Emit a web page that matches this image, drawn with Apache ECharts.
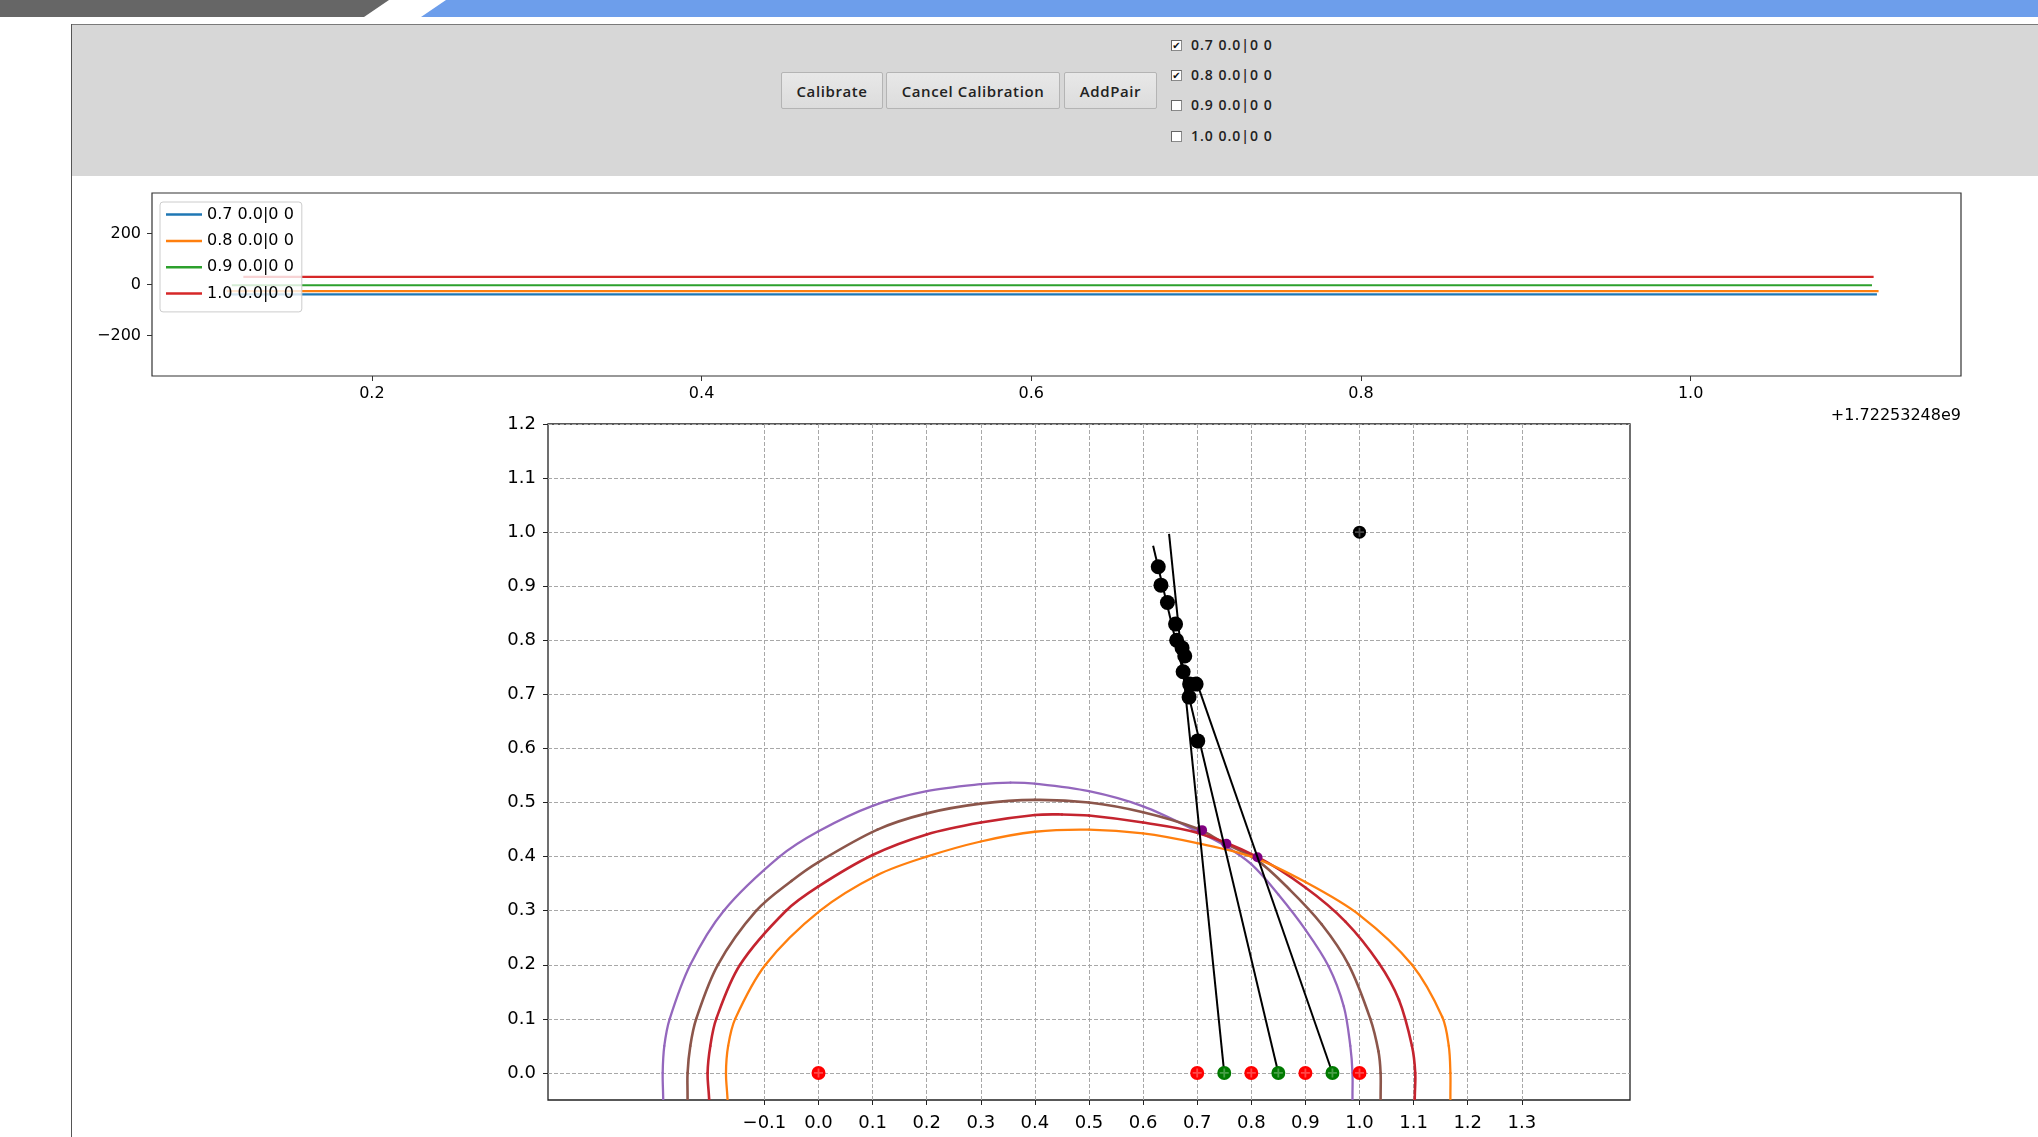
<!DOCTYPE html>
<html>
<head>
<meta charset="utf-8">
<title>Calibration view</title>
<script src="https://cdn.jsdelivr.net/npm/echarts@6.0.0/dist/echarts.min.js"></script>
<style>
  html, body { margin: 0; padding: 0; background: #fff; }
  body { width: 2038px; height: 1137px; overflow: hidden; position: relative; }
  #topbar { position: absolute; left: 0; top: 0; }
  #panel { position: absolute; left: 71px; top: 24px; width: 1967px; height: 152px;
           background: #d7d7d7; border-top: 1px solid #7a7a7a; box-sizing: border-box; }
  #edge { position: absolute; left: 71px; top: 24px; width: 1px; height: 1113px; background: #555; }
  .btn { position: absolute; top: 72px; height: 37px; box-sizing: border-box;
         border: 1px solid #b4b4b4; border-radius: 2px;
         background: linear-gradient(#e8e8e8, #dcdcdc);
         font: 600 15px "Open Sans", "Noto Sans", sans-serif; letter-spacing: 0.6px; color: #222;
         display: flex; align-items: center; justify-content: center; }
  .chk { position: absolute; left: 1171px; width: 11px; height: 11px; box-sizing: border-box;
         background: #fff; border: 1px solid #8a8a8a; border-top-color: #666; border-left-color: #666;
         font: 10px "DejaVu Sans", sans-serif; line-height: 9px; text-align: center; color: #111; }
  .lbl { position: absolute; left: 1191px; font: 600 14px "Open Sans", "Noto Sans", sans-serif;
         letter-spacing: 1px; color: #222; line-height: 16px; }
  #chart { position: absolute; left: 0; top: 0; width: 2038px; height: 1137px; z-index: 2; }
</style>
</head>
<body>
<svg id="topbar" width="2038" height="17">
  <polygon points="0,0 389,0 364,17 0,17" fill="#666666"></polygon>
  <polygon points="446,0 2038,0 2038,17 421,17" fill="#6d9eeb"></polygon>
</svg>
<div id="panel"></div>
<div id="edge"></div>
<div class="btn" style="left:781px;width:102px;">Calibrate</div>
<div class="btn" style="left:886px;width:174px;">Cancel Calibration</div>
<div class="btn" style="left:1064px;width:93px;">AddPair</div>
<div id="checks"></div>
<div id="chart"></div>
<script>
// ---- data ----
// UI checkboxes
const checkLabels = ['0.7 0.0|0 0', '0.8 0.0|0 0', '0.9 0.0|0 0', '1.0 0.0|0 0'];
const checkStates = [true, true, false, false];

// top strip: time (offset from 1.72253248e9) vs value
const tsOffset = '+1.72253248e9';
const topNames = ['0.7 0.0|0 0', '0.8 0.0|0 0', '0.9 0.0|0 0', '1.0 0.0|0 0'];
const topBlue = [[0.113, -39], [1.113, -39]];
const topOrange = [[0.112, -26], [1.114, -26]];
const topGreen = [[0.115, -3], [1.110, -3]];
const topRed = [[0.122, 30], [1.111, 30]];
const topXTicks = [0.2, 0.4, 0.6, 0.8, 1.0];
const topYTicks = [-200, 0, 200];

// bottom plot
const xTicks = [-0.1, 0.0, 0.1, 0.2, 0.3, 0.4, 0.5, 0.6, 0.7, 0.8, 0.9, 1.0, 1.1, 1.2, 1.3];
const yTicks = [0.0, 0.1, 0.2, 0.3, 0.4, 0.5, 0.6, 0.7, 0.8, 0.9, 1.0, 1.1, 1.2];

const purpleArc = [[-0.287, -0.05], [-0.288, 0.0], [-0.285, 0.05], [-0.275, 0.1], [-0.237, 0.2],
  [-0.175, 0.3], [-0.072, 0.4], [0.0, 0.447], [0.1, 0.494], [0.2, 0.521], [0.3, 0.534], [0.355, 0.537],
  [0.4, 0.535], [0.5, 0.521], [0.6, 0.493], [0.7, 0.447], [0.75, 0.421], [0.8, 0.386], [0.85, 0.33],
  [0.9, 0.265], [0.943, 0.197], [0.971, 0.123], [0.983, 0.05], [0.987, 0.0], [0.987, -0.05]];
const brownArc = [[-0.242, -0.05], [-0.242, 0.0], [-0.237, 0.05], [-0.226, 0.1], [-0.186, 0.2],
  [-0.115, 0.3], [-0.05, 0.355], [0.0, 0.39], [0.109, 0.45], [0.2, 0.48], [0.3, 0.498], [0.4, 0.505],
  [0.5, 0.5], [0.6, 0.482], [0.7, 0.452], [0.745, 0.428], [0.81, 0.394], [0.87, 0.34], [0.93, 0.275],
  [0.98, 0.2], [1.02, 0.1], [1.035, 0.04], [1.039, 0.0], [1.039, -0.05]];
const redArc = [[-0.202, -0.05], [-0.205, 0.0], [-0.2, 0.05], [-0.189, 0.1], [-0.145, 0.2],
  [-0.06, 0.3], [0.0, 0.345], [0.1, 0.403], [0.2, 0.441], [0.3, 0.463], [0.4, 0.477], [0.45, 0.478],
  [0.5, 0.476], [0.6, 0.463], [0.7, 0.444], [0.81, 0.4], [0.9, 0.343], [0.974, 0.28], [1.036, 0.203],
  [1.073, 0.135], [1.097, 0.05], [1.103, 0.0], [1.102, -0.05]];
const orangeArc = [[-0.168, -0.05], [-0.171, 0.0], [-0.167, 0.05], [-0.154, 0.1], [-0.098, 0.2],
  [0.003, 0.3], [0.109, 0.366], [0.2, 0.4], [0.3, 0.428], [0.4, 0.446], [0.5, 0.45], [0.6, 0.443],
  [0.7, 0.425], [0.8, 0.4], [0.9, 0.353], [1.0, 0.292], [1.097, 0.2], [1.153, 0.1035], [1.165, 0.05],
  [1.168, 0.0], [1.168, -0.05]];

const rayA = [[0.648, 0.997], [0.75, 0.0]];
const rayB = [[0.6185, 0.975], [0.85, 0.0]];
const rayC = [[0.70, 0.72], [0.95, 0.0]];

const blackDots = [[0.628, 0.936], [0.633, 0.902], [0.645, 0.870], [0.660, 0.830], [0.662, 0.800],
  [0.672, 0.786], [0.677, 0.771], [0.674, 0.742], [0.686, 0.719], [0.698, 0.719], [0.685, 0.695],
  [0.701, 0.614]];
const crossPoints = [[0.709, 0.449], [0.754, 0.424], [0.8115, 0.399]];
const redDots = [[0.0, 0.0], [0.7, 0.0], [0.8, 0.0], [0.9, 0.0], [1.0, 0.0]];
const greenDots = [[0.75, 0.0], [0.85, 0.0], [0.95, 0.0]];
const refDot = [[1.0, 1.0]];

// ---- UI checkboxes ----
(function () {
  const host = document.getElementById('checks');
  const rowTop = [40, 70, 100, 131];
  checkLabels.forEach((t, i) => {
    const box = document.createElement('div');
    box.className = 'chk';
    box.style.top = rowTop[i] + 'px';
    box.textContent = checkStates[i] ? '\u2714' : '';
    host.appendChild(box);
    const lab = document.createElement('div');
    lab.className = 'lbl';
    lab.style.top = (rowTop[i] - 3) + 'px';
    lab.textContent = t;
    host.appendChild(lab);
  });
})();

// ---- chart ----
const FONT = '"DejaVu Sans", sans-serif';
const minus = v => (v < 0 ? '\u2212' : '') + Math.abs(v);
const fmt1 = v => (v < -1e-9 ? '\u2212' : '') + Math.abs(v).toFixed(1);

function lineSeries(name, data, color, width, xi, yi, z) {
  return {
    name: name, type: 'line', data: data, xAxisIndex: xi, yAxisIndex: yi,
    symbol: 'none', showSymbol: false, z: z || 2,
    lineStyle: { color: color, width: width }, itemStyle: { color: color },
    silent: true
  };
}

// smooth curve through the read points: one bezier per segment, tangents from neighbours
function arcSeries(name, pts, color, width) {
  const n = pts.length;
  return {
    name: name, type: 'custom', xAxisIndex: 1, yAxisIndex: 1, clip: true, silent: true, z: 3,
    data: pts,
    renderItem: function (params, api) {
      const i = params.dataIndex;
      if (i >= n - 1) return null;
      const c = k => api.coord(pts[Math.max(0, Math.min(n - 1, k))]);
      const p0 = c(i - 1), p1 = c(i), p2 = c(i + 1), p3 = c(i + 2);
      const d = (a, b) => Math.hypot(b[0] - a[0], b[1] - a[1]) || 1e-6;
      const d01 = d(p0, p1), d12 = d(p1, p2), d23 = d(p2, p3);
      const k1 = d12 / (d01 + d12) / 3 * (i === 0 ? 2 : 1);
      const k2 = d12 / (d12 + d23) / 3 * (i + 2 > n - 1 ? 2 : 1);
      return {
        type: 'bezierCurve',
        shape: {
          x1: p1[0], y1: p1[1], x2: p2[0], y2: p2[1],
          cpx1: p1[0] + (p2[0] - p0[0]) * k1, cpy1: p1[1] + (p2[1] - p0[1]) * k1,
          cpx2: p2[0] - (p3[0] - p1[0]) * k2, cpy2: p2[1] - (p3[1] - p1[1]) * k2
        },
        style: { stroke: color, lineWidth: width, fill: null, lineCap: 'round' }
      };
    }
  };
}
function dotSeries(data, color, size, z) {
  return {
    type: 'scatter', data: data, xAxisIndex: 1, yAxisIndex: 1,
    symbol: 'circle', symbolSize: size, itemStyle: { color: color, opacity: 1 }, z: z, silent: true
  };
}
const crossPath = 'path://M4,0 L6,0 L6,4 L10,4 L10,6 L6,6 L6,10 L4,10 L4,6 L0,6 L0,4 L4,4 Z';

const chart = echarts.init(document.getElementById('chart'), null, { renderer: 'canvas' });
chart.setOption({
  animation: false,
  backgroundColor: 'transparent',
  textStyle: { fontFamily: FONT },
  grid: [
    { left: 152, top: 193, right: 77, height: 183, show: true, borderColor: '#333', borderWidth: 1.2,
      backgroundColor: '#fff' },
    { left: 548, top: 424, width: 1082, height: 676, show: true, borderColor: '#222', borderWidth: 1.3,
      backgroundColor: '#fff' }
  ],
  legend: {
    data: topNames.map(n => ({ name: n, icon: 'rect' })),
    orient: 'vertical', left: 160, top: 202,
    itemWidth: 36, itemHeight: 2.5, itemGap: 10.3,
    padding: [4.6, 8, 10.4, 6],
    backgroundColor: 'rgba(255,255,255,0.8)', borderColor: '#cccccc', borderWidth: 1, borderRadius: 3,
    textStyle: { fontSize: 16, lineHeight: 16, color: '#000', fontFamily: FONT },
    selectedMode: false
  },
  xAxis: [
    { gridIndex: 0, type: 'value', min: 0.0666, max: 1.164,
      axisLine: { show: false, onZero: false },
      axisTick: { show: true, inside: false, length: 5, customValues: topXTicks, lineStyle: { color: '#333' } },
      axisLabel: { customValues: topXTicks, formatter: v => v.toFixed(1), fontSize: 16, color: '#000', margin: 10, fontFamily: FONT },
      splitLine: { show: false } },
    { gridIndex: 1, type: 'value', min: -0.5, max: 1.5,
      axisLine: { show: false, onZero: false },
      axisTick: { show: true, inside: false, length: 5, customValues: xTicks, lineStyle: { color: '#222' } },
      axisLabel: { customValues: xTicks, formatter: fmt1, fontSize: 18, color: '#000', margin: 14, fontFamily: FONT },
      splitLine: { show: true, customValues: xTicks, lineStyle: { color: '#a8a8a8', width: 1, type: [4, 2] } } }
  ],
  yAxis: [
    { gridIndex: 0, type: 'value', min: -358, max: 358,
      axisLine: { show: false, onZero: false },
      axisTick: { show: true, inside: false, length: 5, customValues: topYTicks, lineStyle: { color: '#333' } },
      axisLabel: { customValues: topYTicks, formatter: minus, fontSize: 16, color: '#000', margin: 11, fontFamily: FONT },
      splitLine: { show: false } },
    { gridIndex: 1, type: 'value', min: -0.05, max: 1.2,
      axisLine: { show: false, onZero: false },
      axisTick: { show: true, inside: false, length: 5, customValues: yTicks, lineStyle: { color: '#222' } },
      axisLabel: { customValues: yTicks, formatter: fmt1, fontSize: 18, color: '#000', margin: 12, fontFamily: FONT },
      splitLine: { show: true, customValues: yTicks, lineStyle: { color: '#a8a8a8', width: 1, type: [4, 2] } } }
  ],
  graphic: [
    { type: 'text', right: 77, top: 408, silent: true,
      style: { text: tsOffset, font: '16px "DejaVu Sans", sans-serif', fill: '#000' } }
  ],
  series: [
    lineSeries(topNames[0], topBlue, '#1f77b4', 2.2, 0, 0),
    lineSeries(topNames[1], topOrange, '#ff7f0e', 2.2, 0, 0),
    lineSeries(topNames[2], topGreen, '#2ca02c', 2.2, 0, 0),
    lineSeries(topNames[3], topRed, '#d62728', 2.2, 0, 0),

    arcSeries('purpleArc', purpleArc, '#9467bd', 2.3),
    arcSeries('brownArc', brownArc, '#8c564b', 2.6),
    arcSeries('redArc', redArc, '#c4242f', 2.6),
    arcSeries('orangeArc', orangeArc, '#ff7f0e', 2.3),
    dotSeries(crossPoints, '#800080', 10, 4),
    lineSeries('rayA', rayA, '#000', 2, 1, 1, 5),
    lineSeries('rayB', rayB, '#000', 2, 1, 1, 5),
    lineSeries('rayC', rayC, '#000', 2, 1, 1, 5),
    dotSeries(blackDots, '#000', 15, 6),
    dotSeries(refDot, '#000', 13, 6),
    dotSeries(redDots, '#ff0000', 14, 7),
    dotSeries(greenDots, '#007a00', 14, 7),
    { type: 'scatter', data: redDots.concat(greenDots, refDot), xAxisIndex: 1, yAxisIndex: 1,
      symbol: crossPath, symbolSize: 9, itemStyle: { color: 'rgba(255,255,255,0.35)' }, z: 8, silent: true }
  ]
});
</script>
</body>
</html>
